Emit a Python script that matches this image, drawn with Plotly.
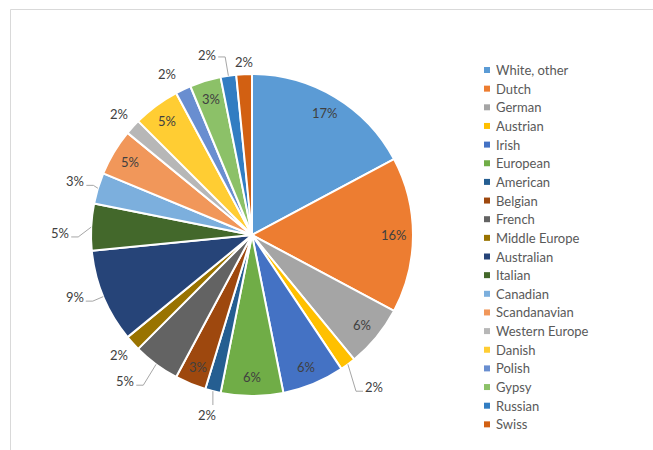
import math
import plotly.graph_objects as go

# Ancestry breakdown (number of responses per group)
categories = ["White, other", "Dutch", "German", "Austrian", "Irish", "European",
              "American", "Belgian", "French", "Middle Europe", "Australian", "Italian",
              "Canadian", "Scandanavian", "Western Europe", "Danish", "Polish", "Gypsy",
              "Russian", "Swiss"]
counts = [11, 10, 4, 1, 4, 4, 1, 2, 3, 1, 6, 3, 2, 3, 1, 3, 1, 2, 1, 1]
colors = ["#5B9BD5", "#ED7D31", "#A5A5A5", "#FFC000", "#4472C4", "#70AD47",
          "#255E91", "#9E480E", "#636363", "#997300", "#264478", "#43682B",
          "#7CAFDD", "#F1975A", "#B7B7B7", "#FFCD33", "#698ED0", "#8CC168",
          "#327DC2", "#D26012"]

W, H = 653, 450
CX, CY, R = 252, 235, 160
FONT = "Lato"
LABEL_COLOR = "#404040"
LEGEND_COLOR = "#595959"
LEADER_COLOR = "#A6A6A6"

# Label placement: (radius factor, angle nudge in degrees, leader style)
label_style = {
    "Austrian": (1.22, -2.2, "h"),
    "American": (1.16, 0.0, "v"),
    "French": (1.21, 4.4, "h"),
    "Middle Europe": (1.12, 0.0, None),
    "Australian": (1.175, 3.2, "h"),
    "Italian": (1.20, -2.2, "h"),
    "Canadian": (1.155, 0.0, "h"),
    "Western Europe": (1.125, 0.0, None),
    "Polish": (1.14, -2.5, None),
    "Russian": (1.16, -5.6, "h2"),
    "Swiss": (1.08, 0.0, None),
}
INSIDE_RF = 0.89


def px(x):
    return x / W


def py(y):
    return 1 - y / H


def polar(angle_deg, r):
    a = math.radians(angle_deg)
    return CX + r * math.sin(a), CY - r * math.cos(a)


fig = go.Figure(go.Pie(
    labels=categories,
    values=counts,
    sort=False,
    direction="clockwise",
    rotation=0,
    marker=dict(colors=colors, line=dict(color="white", width=2)),
    textinfo="none",
    hoverinfo="label+percent",
    domain=dict(x=[px(CX - R - 1), px(CX + R + 1)], y=[py(CY + R + 1), py(CY - R - 1)]),
    showlegend=False,
))

annotations = []
shapes = []

# Chart frame
shapes.append(dict(type="rect", xref="paper", yref="paper",
                   x0=px(10.5), x1=px(W + 20), y0=py(9.5), y1=py(H + 20),
                   line=dict(color="#D9D9D9", width=1), fillcolor="rgba(0,0,0,0)"))

total = sum(counts)
cum = 0
for name, v in zip(categories, counts):
    mid = (cum + v / 2) / total * 360
    cum += v
    text = f"{round(100 * v / total)}%"
    if name in label_style:
        rf, nudge, leader = label_style[name]
        lx, ly = polar(mid + nudge, rf * R)
        hw = 4.6 * len(text)
        ex, ey = polar(mid, R + 1)
        pts = None
        if leader == "h":
            if lx < ex:
                sx = lx + hw + 2
                pts = [(sx, ly + 4), (sx + 7, ly + 4), (ex, ey)]
            else:
                sx = lx - hw - 2
                pts = [(sx, ly + 4), (sx - 7, ly + 4), (ex, ey)]
        elif leader == "h2":
            sx = lx + hw + 2
            pts = [(sx, ly + 2), (sx + 7, ly + 2), (ex, ey)]
        elif leader == "v":
            pts = [(ex, ey), (ex, ly - 10)]
        if pts:
            path = "M " + " L ".join(f"{px(a):.5f},{py(b):.5f}" for a, b in pts)
            shapes.append(dict(type="path", xref="paper", yref="paper", path=path,
                               line=dict(color=LEADER_COLOR, width=1)))
    else:
        lx, ly = polar(mid, INSIDE_RF * R)
    annotations.append(dict(x=px(lx), y=py(ly), xref="paper", yref="paper",
                            text=text, showarrow=False, xanchor="center", yanchor="middle",
                            font=dict(family=FONT, size=13, color=LABEL_COLOR)))

# Legend
LEG_X, LEG_Y0, LEG_DY = 484, 70, 18.65
for i, (name, c) in enumerate(zip(categories, colors)):
    yy = LEG_Y0 + i * LEG_DY
    shapes.append(dict(type="rect", xref="paper", yref="paper",
                       x0=px(LEG_X), x1=px(LEG_X + 6), y0=py(yy + 3), y1=py(yy - 3),
                       line=dict(width=0), fillcolor=c))
    annotations.append(dict(x=px(LEG_X + 10), y=py(yy), xref="paper", yref="paper",
                            text=name, showarrow=False, xanchor="left", yanchor="middle",
                            font=dict(family=FONT, size=13, color=LEGEND_COLOR)))

fig.update_layout(
    width=W, height=H,
    margin=dict(l=0, r=0, t=0, b=0),
    paper_bgcolor="white", plot_bgcolor="white",
    annotations=annotations, shapes=shapes,
    showlegend=False,
)

fig.write_html("out.html")
